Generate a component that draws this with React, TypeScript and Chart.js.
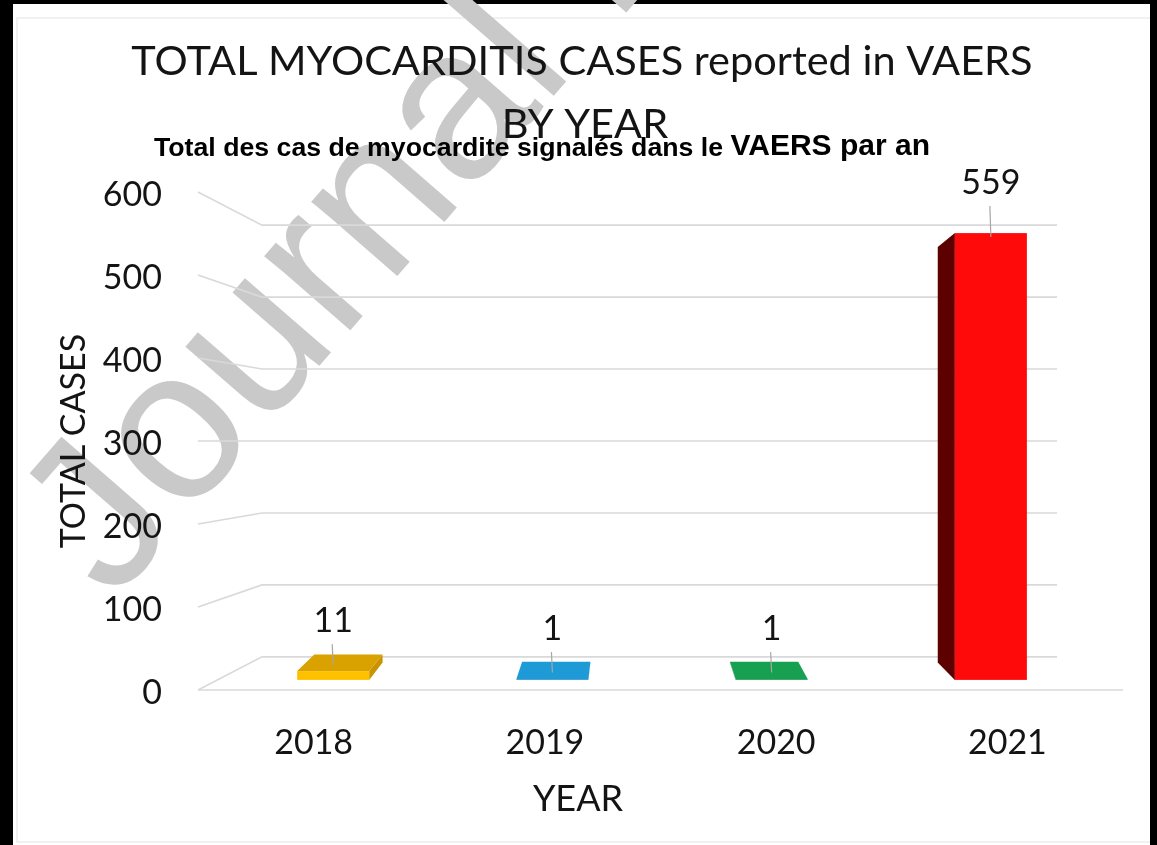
import React, { useEffect, useRef } from 'react';
import { Chart, registerables } from 'chart.js';

Chart.register(...registerables);

// ---------- data ----------
const categories = ['2018', '2019', '2020', '2021'];
const totalCases = [11, 1, 1, 559];
const yTicks = [0, 100, 200, 300, 400, 500, 600];

const titleLine1 = 'TOTAL MYOCARDITIS CASES reported in VAERS';
const titleLine2 = 'BY YEAR';
const frenchLead = 'Total des cas de myocardite signalés dans le';
const frenchTail = 'VAERS par an';
const xTitle = 'YEAR';
const yTitle = 'TOTAL CASES';
const watermark = 'Journal Pre-proof';

// ---------- styles ----------
const frontColors = ['#ffc000', '#1b8fc8', '#12924a', '#ff0a0a'];
const topColors = ['#d9a200', '#1e9bd7', '#17a04f', '#ff2a2a'];
const sideColors = ['#c99300', '#14729f', '#0e7a3b', '#5c0000'];

const CALIBRI = 'Lato, "Open Sans", sans-serif';
const ARIAL = '"Liberation Sans", Arial, sans-serif';
const TEXT = '#141414';
const GRID = '#d9d9d9';

// perspective parameters (plot-box geometry)
const WALL_VY = 441;
const WALL_K = 0.867;
const WALL_LEFT_INSET = 64;
const WALL_RIGHT_INSET = 66;
// front plane -> bar front face plane
const V1X = 690, V1Y = 417, K1X = 0.948, K1Y = 0.963;
// bar front face -> bar back face
const V2X = 626, V2Y = 433, K2X = 0.948, K2Y = 0.93;

const t1 = (x: number, y: number): [number, number] => [V1X + (x - V1X) * K1X, V1Y + (y - V1Y) * K1Y];
const t2 = (x: number, y: number): [number, number] => [V2X + (x - V2X) * K2X, V2Y + (y - V2Y) * K2Y];

function poly(ctx: CanvasRenderingContext2D, pts: [number, number][], fill: string) {
  ctx.beginPath();
  ctx.moveTo(pts[0][0], pts[0][1]);
  for (let i = 1; i < pts.length; i++) ctx.lineTo(pts[i][0], pts[i][1]);
  ctx.closePath();
  ctx.fillStyle = fill;
  ctx.fill();
}

const perspectivePlugin = {
  id: 'perspective3d',
  beforeDraw(chart: any) {
    const { ctx, width, height } = chart;
    ctx.save();
    ctx.fillStyle = '#000';
    ctx.fillRect(0, 0, width, height);
    ctx.fillStyle = '#fff';
    ctx.fillRect(13, 4, 1137, height - 4);
    ctx.strokeStyle = '#ededed';
    ctx.lineWidth = 1.5;
    ctx.beginPath();
    ctx.moveTo(1150, 18);
    ctx.lineTo(17, 18);
    ctx.lineTo(17, 842);
    ctx.lineTo(1150, 842);
    ctx.stroke();
    // watermark
    ctx.translate(113, 603);
    ctx.rotate((-49 * Math.PI) / 180);
    ctx.font = `215px ${ARIAL}`;
    ctx.fillStyle = '#c9c9c9';
    ctx.textAlign = 'left';
    ctx.textBaseline = 'alphabetic';
    ctx.fillText(watermark, 0, 0);
    ctx.restore();
  },
  beforeDatasetsDraw(chart: any) {
    const { ctx, chartArea } = chart;
    const yScale = chart.scales.y;
    const left = chartArea.left;
    const right = chartArea.right;
    const bx0 = left + WALL_LEFT_INSET;
    const bx1 = right - WALL_RIGHT_INSET;
    ctx.save();
    ctx.strokeStyle = GRID;
    ctx.lineWidth = 1.6;
    yScale.ticks.forEach((t: any) => {
      const yF = yScale.getPixelForValue(t.value);
      const yB = WALL_VY + (yF - WALL_VY) * WALL_K;
      ctx.beginPath();
      ctx.moveTo(left, yF);
      ctx.lineTo(bx0, yB);
      ctx.lineTo(bx1, yB);
      ctx.stroke();
    });
    const y0 = yScale.getPixelForValue(0);
    ctx.beginPath();
    ctx.moveTo(left, y0);
    ctx.lineTo(right, y0);
    ctx.stroke();
    ctx.restore();
  },
  afterDatasetsDraw(chart: any) {
    const { ctx } = chart;
    const meta = chart.getDatasetMeta(0);
    ctx.save();
    meta.data.forEach((bar: any, i: number) => {
      const { x, y, base, width } = bar.getProps(['x', 'y', 'base', 'width'], true);
      const [fx0, fTop] = t1(x - width / 2, y);
      const [fx1, fBot] = t1(x + width / 2, base);
      const [bx0, bTop] = t2(fx0, fTop);
      const [bx1, bBot] = t2(fx1, fBot);
      // side faces
      if (fx0 > V2X) {
        poly(ctx, [[fx0, fTop], [bx0, bTop], [bx0, bBot], [fx0, fBot]], sideColors[i]);
      }
      if (fx1 < V2X) {
        poly(ctx, [[fx1, fTop], [bx1, bTop], [bx1, bBot], [fx1, fBot]], sideColors[i]);
      }
      // top face
      if (fTop > V2Y) {
        poly(ctx, [[fx0, fTop], [fx1, fTop], [bx1, bTop], [bx0, bTop]], topColors[i]);
      }
      // front face
      ctx.fillStyle = frontColors[i];
      ctx.fillRect(fx0, fTop, fx1 - fx0, Math.max(fBot - fTop, 0.8));

      // data label + leader line
      const cx = (fx0 + fx1) / 2;
      const baseline = fTop - 39;
      const leaderEnd = fTop > V2Y ? (fTop + bTop) / 2 + 2 : fTop + 4;
      ctx.strokeStyle = '#a6a6a6';
      ctx.lineWidth = 1.2;
      ctx.beginPath();
      ctx.moveTo(cx - 1, baseline + 12);
      ctx.lineTo(cx, leaderEnd);
      ctx.stroke();
      ctx.fillStyle = TEXT;
      ctx.font = `34px ${CALIBRI}`;
      ctx.textAlign = 'center';
      ctx.textBaseline = 'alphabetic';
      ctx.fillText(String(totalCases[i]), cx, baseline);
    });
    ctx.restore();
  },
  afterDraw(chart: any) {
    const { ctx } = chart;
    ctx.save();
    ctx.fillStyle = TEXT;
    ctx.textBaseline = 'alphabetic';
    ctx.textAlign = 'center';
    ctx.font = `41.5px ${CALIBRI}`;
    ctx.fillText(titleLine1, 582, 75);
    ctx.fillText(titleLine2, 585, 138);
    // x axis title
    ctx.font = `36px ${CALIBRI}`;
    ctx.fillText(xTitle, 578, 811);
    // French overlay subtitle
    ctx.fillStyle = '#000';
    ctx.textAlign = 'left';
    ctx.font = `bold 26.7px ${ARIAL}`;
    ctx.fillText(frenchLead, 154, 156);
    const w = ctx.measureText(frenchLead + ' ').width;
    ctx.font = `bold 30px ${ARIAL}`;
    ctx.fillText(frenchTail, 154 + w, 155);
    ctx.restore();
  },
};

export default function App() {
  const canvasRef = useRef<HTMLCanvasElement | null>(null);

  useEffect(() => {
    if (!canvasRef.current) return;
    const chart = new Chart(canvasRef.current, {
      type: 'bar',
      data: {
        labels: categories,
        datasets: [
          {
            label: yTitle,
            data: totalCases,
            backgroundColor: 'rgba(0,0,0,0)',
            borderWidth: 0,
            barPercentage: 0.3286,
            categoryPercentage: 1,
          },
        ],
      },
      options: {
        animation: false,
        responsive: true,
        maintainAspectRatio: false,
        layout: { padding: { top: 192, right: 34, bottom: 0, left: 0 } },
        plugins: {
          legend: { display: false },
          title: { display: false },
          tooltip: { enabled: false },
        },
        scales: {
          x: {
            type: 'category',
            grid: { display: false, drawTicks: false },
            border: { display: false },
            ticks: {
              font: { family: CALIBRI, size: 34 },
              color: TEXT,
              padding: 33,
              maxRotation: 0,
              autoSkip: false,
            },
            afterFit: (s: any) => {
              s.height = 155;
            },
          },
          y: {
            type: 'linear',
            min: 0,
            max: 600,
            grid: { display: false, drawTicks: false },
            border: { display: false },
            ticks: {
              font: { family: CALIBRI, size: 34 },
              color: TEXT,
              padding: 36,
              labelOffset: 3,
            },
            afterBuildTicks: (s: any) => {
              s.ticks = yTicks.map((v) => ({ value: v }));
            },
            title: {
              display: true,
              text: yTitle,
              font: { family: CALIBRI, size: 34 },
              color: TEXT,
              padding: { top: 54, bottom: 0 },
            },
            afterFit: (s: any) => {
              s.width = 198;
            },
          },
        },
      },
      plugins: [perspectivePlugin],
    });
    return () => chart.destroy();
  }, []);

  return (
    <div style={{ position: 'fixed', left: 0, top: 0, width: 1157, height: 845 }}>
      <canvas ref={canvasRef} />
    </div>
  );
}
